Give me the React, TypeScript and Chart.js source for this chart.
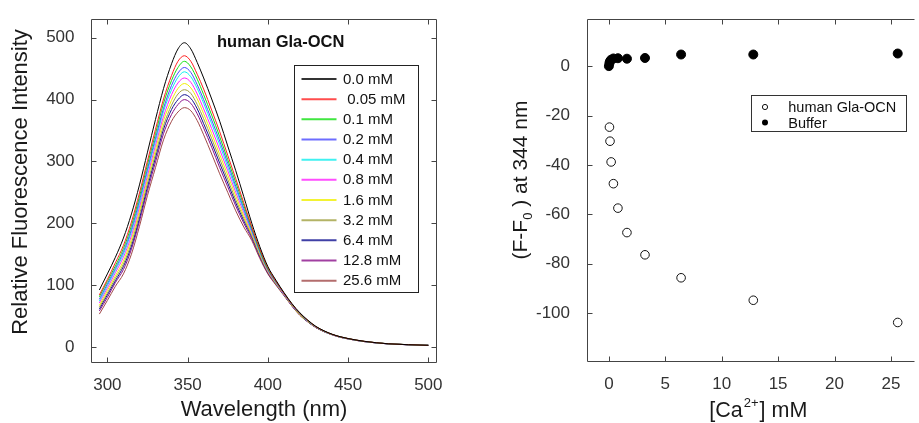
import React, { useEffect, useRef } from "react";
import { Chart, registerables } from "chart.js";

Chart.register(...registerables);

const FONT = "'Liberation Sans', Arial, Helvetica, sans-serif";

// ---------- Left panel: emission spectra ----------
const WAVELENGTH = [295, 300, 305, 310, 315, 320, 325, 330, 335, 340, 344, 348, 352, 356, 360, 365, 370, 375, 380, 385, 390, 395, 400, 405, 410, 415, 420, 425, 430, 435, 440, 445, 450, 460, 475, 500];

const CONC_LABELS = ["0.0 mM", " 0.05 mM", "0.1 mM", "0.2 mM", "0.4 mM", "0.8 mM", "1.6 mM", "3.2 mM", "6.4 mM", "12.8 mM", "25.6 mM"];
const CONC_COLORS = ["#000000", "#ff2020", "#10e010", "#4848ff", "#10eeee", "#ff20ff", "#f0f000", "#a0a040", "#101090", "#8a108a", "#a04848"];

const I_0_0 = [92, 118, 145, 176, 215, 262, 315, 368, 418, 458, 482, 492, 482, 460, 435, 401, 365, 325, 285, 243, 200, 162, 130, 108, 88, 70, 55, 43, 33, 26, 20.5, 16.5, 13.5, 9, 5, 2.5];
const I_0_05 = [84, 109, 136, 164, 202, 249, 301, 352, 401, 439, 462, 471, 462, 441, 417, 383, 348, 310, 272, 233, 194, 158, 128, 106, 87, 69, 54, 42.5, 32.5, 25.7, 20.3, 16.3, 13.4, 9, 5, 2.5];
const I_0_1 = [81, 106, 131, 159, 196, 243, 295, 345, 394, 431, 452, 462, 453, 433, 408, 375, 340, 303, 266, 229, 192, 156, 126, 106, 87, 69, 54, 42, 32.5, 25.5, 20.2, 16.2, 13.3, 8.9, 5, 2.5];
const I_0_2 = [77, 102, 127, 154, 190, 237, 288, 338, 386, 423, 443, 452, 444, 424, 400, 367, 333, 297, 260, 224, 189, 155, 125, 105, 86, 68, 53, 42, 32.2, 25.4, 20.1, 16.1, 13.2, 8.8, 4.9, 2.5];
const I_0_4 = [74, 99, 124, 150, 186, 232, 284, 333, 381, 416, 436, 445, 437, 418, 394, 361, 327, 291, 256, 221, 187, 153, 125, 104, 86, 68, 53, 41.6, 32.1, 25.3, 20, 16, 13.2, 8.8, 4.9, 2.5];
const I_0_8 = [71, 95, 120, 145, 180, 226, 277, 326, 373, 408, 427, 435, 428, 409, 385, 353, 319, 285, 250, 217, 185, 152, 123, 104, 85, 68, 53, 41.4, 31.9, 25.2, 19.9, 16, 13.1, 8.7, 4.9, 2.4];
const I_1_6 = [67, 91, 115, 139, 174, 220, 271, 319, 366, 399, 418, 426, 419, 401, 377, 345, 311, 278, 244, 212, 182, 150, 122, 103, 85, 67, 52, 41.1, 31.7, 25.1, 19.9, 15.9, 13.1, 8.7, 4.9, 2.4];
const I_3_2 = [64, 87, 111, 134, 168, 214, 265, 312, 358, 391, 409, 416, 410, 392, 369, 337, 304, 271, 238, 208, 180, 148, 121, 102, 84, 67, 52, 40.8, 31.6, 25, 19.8, 15.8, 13, 8.6, 4.9, 2.4];
const I_6_4 = [61, 84, 107, 130, 163, 208, 259, 306, 352, 384, 400, 408, 402, 385, 361, 330, 297, 265, 233, 204, 178, 147, 120, 102, 84, 67, 52, 40.6, 31.4, 24.8, 19.7, 15.7, 12.9, 8.6, 4.8, 2.4];
const I_12_8 = [58, 80, 104, 125, 158, 203, 253, 299, 345, 376, 392, 400, 394, 377, 354, 323, 290, 259, 228, 200, 175, 145, 119, 101, 84, 66, 51, 40.4, 31.2, 24.7, 19.6, 15.6, 12.9, 8.5, 4.8, 2.4];
const I_25_6 = [53, 75, 98, 118, 150, 195, 245, 290, 335, 365, 380, 387, 382, 366, 343, 312, 280, 250, 220, 194, 172, 143, 118, 100, 83, 66, 51, 40, 31, 24.5, 19.5, 15.5, 12.8, 8.5, 4.8, 2.4];

const SPECTRA = [I_0_0, I_0_05, I_0_1, I_0_2, I_0_4, I_0_8, I_1_6, I_3_2, I_6_4, I_12_8, I_25_6];

const WL_TICKS = [300, 350, 400, 450, 500];
const FI_TICKS = [0, 100, 200, 300, 400, 500];

// ---------- Right panel: titration ----------
const GLA_CA = [0.05, 0.1, 0.2, 0.4, 0.8, 1.6, 3.2, 6.4, 12.8, 25.6];
const GLA_DF = [-24.7, -30.4, -38.8, -47.6, -57.5, -67.4, -76.4, -85.7, -94.8, -103.8];
const BUF_CA = [0, 0.05, 0.1, 0.2, 0.4, 0.8, 1.6, 3.2, 6.4, 12.8, 25.6];
const BUF_DF = [0, 1.2, 2.0, 2.6, 3.1, 3.2, 3.0, 3.3, 4.7, 4.7, 5.1];

const CA_TICKS = [0, 5, 10, 15, 20, 25];
const DF_TICKS = [0, -20, -40, -60, -80, -100];

const AXIS_COLOR = "#444";
const TICK_TEXT = "#333";
const TITLE_TEXT = "#1a1a1a";

function drawFrame(chart: any, sides: { top: boolean; bottom: boolean; left: boolean; right: boolean }, extendRight: number) {
  const { ctx, chartArea: a, scales } = chart;
  const L = Math.round(a.left) + 0.5;
  const R = Math.round(a.right) - 0.5;
  const T = Math.round(a.top) + 0.5;
  const B = Math.round(a.bottom) + 0.5;
  const len = 5;
  ctx.save();
  ctx.strokeStyle = AXIS_COLOR;
  ctx.lineWidth = 1;
  ctx.beginPath();
  if (sides.top) { ctx.moveTo(L, T); ctx.lineTo(R + extendRight, T); }
  if (sides.bottom) { ctx.moveTo(L, B); ctx.lineTo(R + extendRight, B); }
  if (sides.left) { ctx.moveTo(L, T); ctx.lineTo(L, B); }
  if (sides.right) { ctx.moveTo(R, T); ctx.lineTo(R, B); }
  scales.x.ticks.forEach((t: any) => {
    const px = Math.round(scales.x.getPixelForValue(t.value)) + 0.5;
    if (sides.top) { ctx.moveTo(px, T); ctx.lineTo(px, T + len); }
    if (sides.bottom) { ctx.moveTo(px, B); ctx.lineTo(px, B - len); }
  });
  scales.y.ticks.forEach((t: any) => {
    const py = Math.round(scales.y.getPixelForValue(t.value)) + 0.5;
    if (sides.left) { ctx.moveTo(L, py); ctx.lineTo(L + len, py); }
    if (sides.right) { ctx.moveTo(R, py); ctx.lineTo(R - len, py); }
  });
  ctx.stroke();
  ctx.restore();
}

const leftDecor = {
  id: "leftDecor",
  afterDraw(chart: any) {
    drawFrame(chart, { top: true, bottom: true, left: true, right: true }, 0);
    const ctx = chart.ctx;
    ctx.save();
    // axis titles
    ctx.fillStyle = TITLE_TEXT;
    ctx.font = `22px ${FONT}`;
    ctx.textAlign = "center";
    ctx.textBaseline = "alphabetic";
    ctx.fillText("Wavelength (nm)", 264, 416);
    ctx.save();
    ctx.translate(26.5, 182);
    ctx.rotate(-Math.PI / 2);
    ctx.fillText("Relative Fluorescence Intensity", 0, 0);
    ctx.restore();
    // inner title
    ctx.font = `bold 16.5px ${FONT}`;
    ctx.textAlign = "left";
    ctx.fillStyle = "#111";
    ctx.fillText("human Gla-OCN", 217, 47);
    // legend box
    const bx = 294.5, by = 65.5, bw = 124, bh = 227;
    ctx.fillStyle = "#fff";
    ctx.fillRect(bx, by, bw, bh);
    ctx.strokeStyle = "#222";
    ctx.lineWidth = 1;
    ctx.strokeRect(bx, by, bw, bh);
    ctx.font = `15px ${FONT}`;
    ctx.textBaseline = "middle";
    chart.data.datasets.forEach((ds: any, i: number) => {
      const y = 79 + i * 20.17;
      ctx.strokeStyle = ds.borderColor;
      ctx.globalAlpha = 0.8;
      ctx.lineWidth = 2;
      ctx.beginPath();
      ctx.moveTo(301.5, y);
      ctx.lineTo(336.5, y);
      ctx.stroke();
      ctx.globalAlpha = 1;
      ctx.fillStyle = "#111";
      ctx.fillText(ds.label, 343, y + 0.5);
    });
    ctx.restore();
  },
};

const rightDecor = {
  id: "rightDecor",
  afterDraw(chart: any) {
    drawFrame(chart, { top: true, bottom: true, left: true, right: false }, 1);
    const ctx = chart.ctx;
    ctx.save();
    ctx.fillStyle = TITLE_TEXT;
    ctx.textBaseline = "alphabetic";
    ctx.textAlign = "left";
    // x title: [Ca2+] mM
    let x = 249.3;
    const base = 417;
    ctx.font = `21.5px ${FONT}`;
    ctx.fillText("[Ca", x, base);
    x += ctx.measureText("[Ca").width;
    ctx.font = `13px ${FONT}`;
    ctx.fillText("2+", x + 1, base - 10.5);
    x += ctx.measureText("2+").width + 2;
    ctx.font = `21.5px ${FONT}`;
    ctx.fillText("] mM", x, base);
    // y title: (F-F0 ) at 344 nm
    ctx.save();
    ctx.translate(66.5, 180);
    ctx.rotate(-Math.PI / 2);
    ctx.font = `21px ${FONT}`;
    const p1 = "(F-F";
    const p2 = " ) at 344 nm";
    const w1 = ctx.measureText(p1).width;
    const w3 = ctx.measureText(p2).width;
    ctx.font = `13px ${FONT}`;
    const w2 = ctx.measureText("0").width;
    const total = w1 + w2 + w3;
    let sx = -total / 2;
    ctx.font = `21px ${FONT}`;
    ctx.fillText(p1, sx, 0);
    sx += w1;
    ctx.font = `13px ${FONT}`;
    ctx.fillText("0", sx, 5);
    sx += w2;
    ctx.font = `21px ${FONT}`;
    ctx.fillText(p2, sx, 0);
    ctx.restore();
    // legend
    const bx = 291.5, by = 95.5, bw = 155, bh = 36;
    ctx.fillStyle = "#fff";
    ctx.fillRect(bx, by, bw, bh);
    ctx.strokeStyle = "#333";
    ctx.lineWidth = 1;
    ctx.strokeRect(bx, by, bw, bh);
    // open marker
    ctx.beginPath();
    ctx.arc(305, 107, 2.6, 0, Math.PI * 2);
    ctx.fillStyle = "#fff";
    ctx.fill();
    ctx.strokeStyle = "#111";
    ctx.stroke();
    // filled marker
    ctx.beginPath();
    ctx.arc(305, 122.5, 3, 0, Math.PI * 2);
    ctx.fillStyle = "#000";
    ctx.fill();
    ctx.fillStyle = "#111";
    ctx.font = `14.5px ${FONT}`;
    ctx.fillText(chart.data.datasets[0].label, 328.3, 111.5);
    ctx.fillText(chart.data.datasets[1].label, 328.3, 127.5);
    ctx.restore();
  },
};

function tickFont() {
  return { family: FONT, size: 17 };
}

function LeftChart() {
  const ref = useRef<HTMLCanvasElement | null>(null);
  useEffect(() => {
    if (!ref.current) return;
    const datasets = SPECTRA.map((s, i) => ({
      label: CONC_LABELS[i],
      data: WAVELENGTH.map((w, j) => ({ x: w, y: s[j] })),
      borderColor: CONC_COLORS[i],
      backgroundColor: CONC_COLORS[i],
      borderWidth: 1,
      pointRadius: 0,
      fill: false,
      cubicInterpolationMode: "monotone" as const,
    }));
    const chart = new Chart(ref.current, {
      type: "line",
      data: { datasets },
      options: {
        animation: false,
        responsive: false,
        devicePixelRatio: 1,
        layout: { padding: { left: 0, right: 23, top: 15, bottom: 0 } },
        plugins: { legend: { display: false }, tooltip: { enabled: false }, title: { display: false } },
        scales: {
          x: {
            type: "linear",
            min: 289.8,
            max: 505.4,
            grid: { display: false },
            border: { display: false },
            ticks: { font: tickFont(), color: TICK_TEXT, padding: 5, maxRotation: 0 },
            afterBuildTicks: (s: any) => { s.ticks = WL_TICKS.map((v) => ({ value: v })); },
            afterFit: (s: any) => { s.height = 61; },
          },
          y: {
            type: "linear",
            min: -24.5,
            max: 530.9,
            grid: { display: false },
            border: { display: false },
            ticks: { font: tickFont(), color: TICK_TEXT, padding: 8.5 },
            afterBuildTicks: (s: any) => { s.ticks = FI_TICKS.map((v) => ({ value: v })); },
            afterFit: (s: any) => { s.width = 91; },
          },
        },
      },
      plugins: [leftDecor],
    });
    return () => chart.destroy();
  }, []);
  return (
    <canvas
      ref={ref}
      width={460}
      height={423}
      style={{ position: "absolute", left: 0, top: 0, width: 460, height: 423 }}
    />
  );
}

function RightChart() {
  const ref = useRef<HTMLCanvasElement | null>(null);
  useEffect(() => {
    if (!ref.current) return;
    const chart = new Chart(ref.current, {
      type: "scatter",
      data: {
        datasets: [
          {
            label: "human Gla-OCN",
            data: GLA_CA.map((c, i) => ({ x: c, y: GLA_DF[i] })),
            pointRadius: 4.3,
            pointBorderWidth: 1,
            pointBorderColor: "#111",
            pointBackgroundColor: "#fff",
            borderColor: "#111",
            backgroundColor: "#fff",
            showLine: false,
          },
          {
            label: "Buffer",
            data: BUF_CA.map((c, i) => ({ x: c, y: BUF_DF[i] })),
            pointRadius: 4.5,
            pointBorderWidth: 1,
            pointBorderColor: "#000",
            pointBackgroundColor: "#000",
            borderColor: "#000",
            backgroundColor: "#000",
            showLine: false,
          },
        ],
      },
      options: {
        animation: false,
        responsive: false,
        devicePixelRatio: 1,
        layout: { padding: { left: 0, right: 0, top: 16, bottom: 0 } },
        plugins: { legend: { display: false }, tooltip: { enabled: false }, title: { display: false } },
        scales: {
          x: {
            type: "linear",
            min: -1.94,
            max: 27.0,
            grid: { display: false },
            border: { display: false },
            ticks: { font: tickFont(), color: TICK_TEXT, padding: 5, maxRotation: 0 },
            afterBuildTicks: (s: any) => { s.ticks = CA_TICKS.map((v) => ({ value: v })); },
            afterFit: (s: any) => { s.height = 62; },
          },
          y: {
            type: "linear",
            min: -119.4,
            max: 19,
            grid: { display: false },
            border: { display: false },
            ticks: { font: tickFont(), color: TICK_TEXT, padding: 9 },
            afterBuildTicks: (s: any) => { s.ticks = DF_TICKS.map((v) => ({ value: v })); },
            afterFit: (s: any) => { s.width = 127; },
          },
        },
      },
      plugins: [rightDecor],
    });
    return () => chart.destroy();
  }, []);
  return (
    <canvas
      ref={ref}
      width={459}
      height={423}
      style={{ position: "absolute", left: 460, top: 0, width: 459, height: 423 }}
    />
  );
}

export default function App() {
  return (
    <div
      style={{
        position: "fixed",
        left: 0,
        top: 0,
        width: 919,
        height: 423,
        background: "#fff",
        overflow: "hidden",
      }}
    >
      <LeftChart />
      <RightChart />
    </div>
  );
}
